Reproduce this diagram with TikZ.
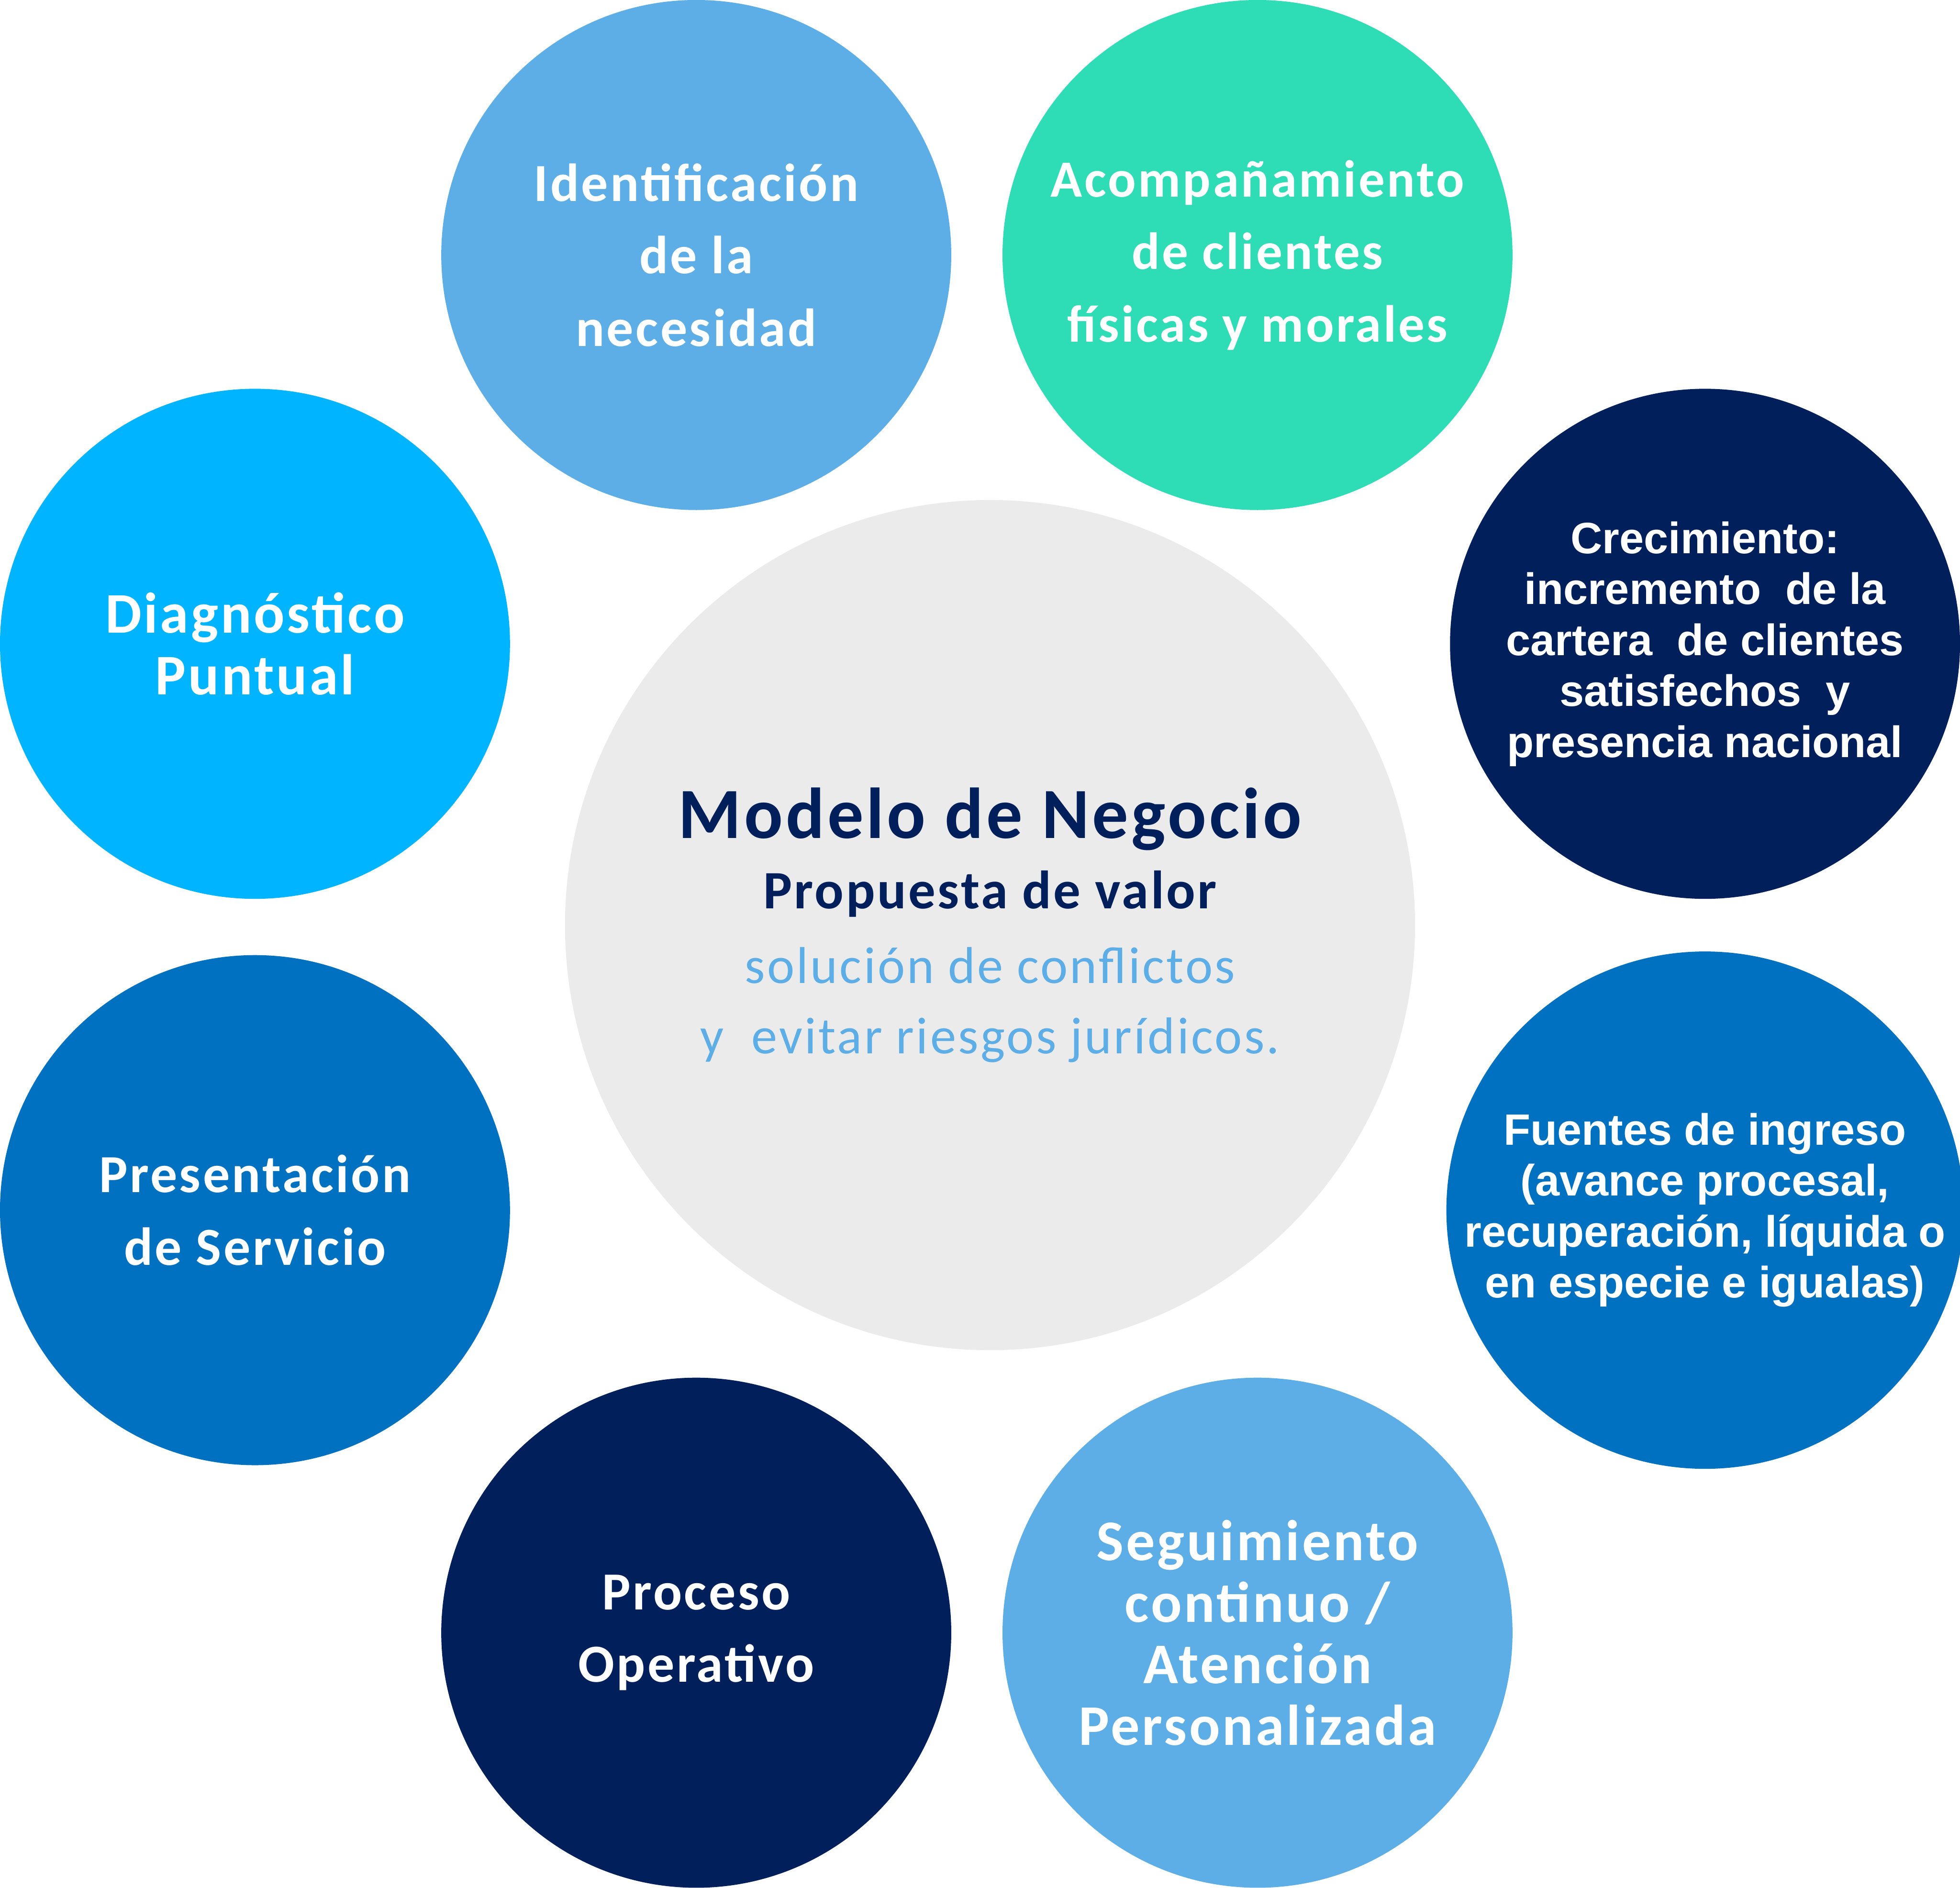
\documentclass[tikz,border=0pt]{standalone}
\usepackage{fontspec}
\setmainfont{Carlito}
\newfontfamily\arialfont{Liberation Sans}
\newfontfamily\widefont[LetterSpace=4]{Carlito}
\definecolor{celeste}{HTML}{5DADE6}
\definecolor{turquesa}{HTML}{2EDCB5}
\definecolor{marino}{HTML}{001F5B}
\definecolor{azul}{HTML}{0070C0}
\definecolor{cian}{HTML}{00B4FF}
\definecolor{gris}{HTML}{EBEBEB}
\begin{document}
\begin{tikzpicture}[bubble/.style={circle,minimum size=4.08cm,inner sep=0pt,
                      align=center,text=white},
                    calibri/.style={font=\widefont\bfseries\fontsize{12.2}{16.5}\selectfont},
                    small calibri/.style={font=\widefont\bfseries\fontsize{11.9}{16.5}\selectfont},
                    big calibri/.style={font=\widefont\bfseries\fontsize{13.1}{14}\selectfont},
                    arial/.style={font=\arialfont\bfseries\fontsize{10}{11.6}\selectfont}]
  \useasboundingbox (0,0) rectangle (15.68,15.10);
  % centro
  \node[circle,fill=gris,minimum size=6.8cm,inner sep=0pt,align=center,
        font=\widefont] (modelo) at (7.92,7.70)
    {\color{marino}\bfseries\fontsize{16.4}{20}\selectfont Modelo de Negocio\\[4pt]
     \color{marino}\bfseries\fontsize{12.3}{15}\selectfont Propuesta de valor\\[5pt]
     \color{celeste}\fontsize{11.8}{16.5}\selectfont solución de conflictos\\[4pt]
     \color{celeste}\fontsize{11.8}{16.5}\selectfont y\ \ evitar riesgos jurídicos.};
  % alrededor
  \node[bubble,calibri,fill=celeste] (identificacion) at (5.57,13.06)
    {Identificación\\de la\\necesidad};
  \node[bubble,small calibri,fill=turquesa] (acompanamiento) at (10.06,13.06)
    {Acompañamiento\\de clientes\\físicas y morales};
  \node[bubble,arial,fill=marino] (crecimiento) at (13.64,9.95)
    {Crecimiento:\\incremento\ \ de la\\cartera\ \ de clientes\\satisfechos\ \ y\\presencia nacional};
  \node[bubble,arial,fill=azul] (fuentes) at (13.64,5.42)
    {Fuentes de ingreso\\(avance procesal,\\recuperación, líquida o\\en especie e igualas)};
  \node[bubble,big calibri,fill=celeste] (seguimiento) at (10.06,2.04)
    {Seguimiento\\continuo /\\Atención\\Personalizada};
  \node[bubble,calibri,fill=marino] (proceso) at (5.57,2.04)
    {Proceso\\Operativo};
  \node[bubble,calibri,fill=azul] (presentacion) at (2.04,5.42)
    {Presentación\\de Servicio};
  \node[bubble,big calibri,fill=cian] (diagnostico) at (2.04,9.95)
    {Diagnóstico\\Puntual};
\end{tikzpicture}
\end{document}
